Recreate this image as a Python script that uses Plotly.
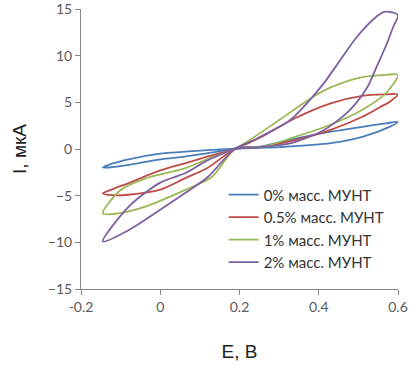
import plotly.graph_objects as go

# Series data (E, V ; I, µA), each a closed loop
e_0 = [-0.145, -0.12, -0.08, 0.0, 0.062, 0.12, 0.19, 0.24, 0.34, 0.43, 0.51, 0.57, 0.6,
       0.58, 0.51, 0.43, 0.3, 0.19, 0.12, 0.062, 0.0, -0.08, -0.13, -0.145]
i_0 = [-2.0, -1.55, -1.1, -0.5, -0.29, -0.12, 0.05, 0.15, 1.1, 1.85, 2.38, 2.75, 2.9,
       2.4, 1.3, 0.62, 0.2, 0.0, -0.45, -0.82, -1.1, -1.7, -1.98, -2.0]

e_05 = [-0.145, -0.12, -0.08, 0.0, 0.062, 0.12, 0.19, 0.26, 0.34, 0.43, 0.51, 0.57, 0.6,
        0.58, 0.555, 0.51, 0.43, 0.34, 0.26, 0.19, 0.12, 0.062, 0.0, -0.08, -0.12, -0.145]
i_05 = [-4.75, -4.3, -3.65, -2.3, -1.53, -0.8, 0.05, 1.4, 3.3, 4.9, 5.7, 5.85, 5.85,
        5.1, 4.5, 3.45, 2.05, 0.95, 0.25, 0.0, -2.0, -3.14, -4.35, -4.9, -4.95, -4.75]

e_1 = [-0.145, -0.1, -0.04, 0.062, 0.13, 0.19, 0.22, 0.3, 0.386, 0.43, 0.51, 0.57, 0.6,
       0.57, 0.51, 0.43, 0.34, 0.26, 0.19, 0.13, 0.062, -0.04, -0.106, -0.145]
i_1 = [-6.9, -4.4, -3.2, -2.07, -0.9, 0.05, 0.8, 3.1, 5.6, 6.6, 7.7, 7.95, 7.95,
       6.0, 4.2, 2.6, 1.3, 0.25, 0.0, -3.0, -4.4, -6.2, -6.9, -6.9]

e_2 = [-0.145, -0.08, 0.0, 0.062, 0.12, 0.19, 0.243, 0.328, 0.37, 0.412, 0.454, 0.496, 0.546, 0.565, 0.59, 0.6,
       0.588, 0.572, 0.546, 0.521, 0.479, 0.412, 0.328, 0.25, 0.19, 0.12, 0.062, 0.0, -0.08, -0.145]
i_2 = [-9.9, -6.2, -3.6, -2.6, -1.2, 0.1, 1.1, 3.1, 4.9, 7.0, 9.5, 12.0, 14.2, 14.7, 14.6, 14.3,
       13.1, 11.3, 8.8, 6.5, 4.2, 2.0, 0.6, 0.2, 0.0, -3.0, -4.75, -6.5, -8.7, -9.9]

series_names = ["0% масс. МУНТ", "0.5% масс. МУНТ", "1% масс. МУНТ", "2% масс. МУНТ"]
series_e = [e_0, e_05, e_1, e_2]
series_i = [i_0, i_05, i_1, i_2]
colors = ["#4A7EBB", "#BE4B48", "#98B954", "#7D60A0"]

x_ticks = [-0.2, 0, 0.2, 0.4, 0.6]
x_ticktext = ["-0.2", "0", "0.2", "0.4", "0.6"]
y_ticks = [-15, -10, -5, 0, 5, 10, 15]

fig = go.Figure()
for name, e, i, c in zip(series_names, series_e, series_i, colors):
    fig.add_trace(go.Scatter(x=e, y=i, mode="lines", name=name,
                             line=dict(color=c, width=1.8, shape="spline", smoothing=0.8)))

axis_common = dict(showgrid=False, zeroline=False, showline=True, linecolor="#868686",
                   linewidth=1, ticks="outside", ticklen=5, tickcolor="#868686",
                   automargin=False, ticklabeloverflow="allow",
                   tickfont=dict(family="Lato, Liberation Sans, sans-serif", size=14, color="#595959"))

fig.update_xaxes(range=[-0.2, 0.6], tickvals=x_ticks, ticktext=x_ticktext,
                 title=dict(text="E, B", font=dict(family="Liberation Sans, Arial", size=19, color="#222222"),
                            standoff=30),
                 **axis_common)
fig.update_yaxes(range=[-15, 15.0001], tickvals=y_ticks,
                 title=dict(text="I, мкА", font=dict(family="Liberation Sans, Arial", size=19, color="#222222"),
                            standoff=16),
                 **axis_common)

fig.update_layout(
    width=418, height=370,
    margin=dict(l=81, r=20, t=9, b=81),
    paper_bgcolor="white", plot_bgcolor="white",
    showlegend=True,
    legend=dict(x=0.45, y=0.395, xanchor="left", yanchor="top",
                bgcolor="rgba(0,0,0,0)", tracegroupgap=0,
                font=dict(family="Lato, Liberation Sans, sans-serif", size=15, color="#333333")),
)

fig.write_html("out.html", config={"displayModeBar": False},
               post_script="document.body.style.margin='0';document.body.style.padding='0';")
